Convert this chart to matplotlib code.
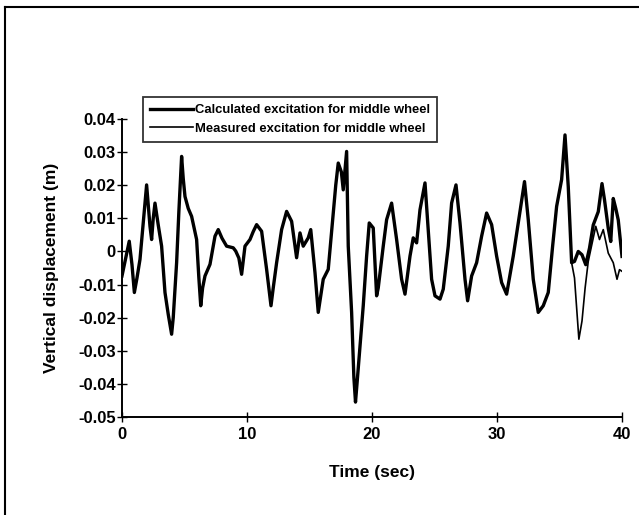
import matplotlib
matplotlib.use("Agg")
import matplotlib.pyplot as plt
from matplotlib.lines import Line2D

# shared part of both traces (they lie on top of each other up to ~36 s)
t_common = [0.0, 0.3, 0.58, 0.8, 0.99, 1.2, 1.44, 1.7, 1.97, 2.15, 2.24, 2.37, 2.5, 2.64,
            2.9, 3.17, 3.44, 3.7, 3.97, 4.1, 4.37, 4.55, 4.77, 4.9, 5.04, 5.3, 5.57, 5.97,
            6.15, 6.3, 6.45, 6.64, 7.04, 7.44, 7.7, 8.0, 8.37, 8.9, 9.1, 9.35, 9.57, 9.84,
            10.24, 10.5, 10.77, 11.17, 11.57, 11.92, 12.1, 12.37, 12.77, 13.17, 13.57, 13.97,
            14.24, 14.5, 14.9, 15.1, 15.44, 15.7, 16.1, 16.5, 16.9, 17.1, 17.3, 17.55, 17.7,
            17.97, 18.1, 18.37, 18.55, 18.68, 18.8, 19.04, 19.3, 19.57, 19.78, 20.1, 20.37,
            20.5, 20.9, 21.17, 21.57, 21.97, 22.37, 22.64, 23.04, 23.3, 23.57, 23.84, 24.24,
            24.5, 24.77, 25.04, 25.44, 25.7, 26.1, 26.37, 26.72, 27.04, 27.44, 27.65, 27.97,
            28.37, 28.77, 29.17, 29.57, 29.97, 30.37, 30.77, 31.3, 31.7, 32.2, 32.5, 32.9,
            33.3, 33.7, 34.1, 34.45, 34.77, 35.17, 35.44, 35.7, 35.97]
v_common = [-0.0074, -0.002, 0.0031, -0.004, -0.0124, -0.008, -0.0024, 0.0086, 0.0201, 0.012,
            0.0076, 0.0036, 0.010, 0.0146, 0.008, 0.0016, -0.0124, -0.019, -0.025, -0.020,
            -0.0034, 0.012, 0.0287, 0.022, 0.0166, 0.013, 0.0106, 0.0036, -0.008, -0.0164,
            -0.011, -0.0074, -0.0039, 0.0046, 0.0066, 0.004, 0.0016, 0.0011, 0.0001, -0.002,
            -0.0069, 0.0016, 0.0036, 0.006, 0.0081, 0.0061, -0.0054, -0.0164, -0.011, -0.0034,
            0.0066, 0.0121, 0.0091, -0.0019, 0.0056, 0.0016, 0.0041, 0.0066, -0.0064, -0.0184,
            -0.0084, -0.0054, 0.0116, 0.020, 0.0267, 0.024, 0.0186, 0.0302, 0.0016, -0.0184,
            -0.038, -0.0455, -0.040, -0.0285, -0.0164, -0.0014, 0.0086, 0.0071, -0.0134,
            -0.011, 0.0016, 0.0096, 0.0146, 0.0036, -0.0084, -0.0129, -0.0014, 0.0041, 0.0026,
            0.0126, 0.0207, 0.0066, -0.0084, -0.0134, -0.0144, -0.0114, 0.0016, 0.0146, 0.0201,
            0.0086, -0.0084, -0.0149, -0.0074, -0.0034, 0.0046, 0.0116, 0.0081, -0.0014,
            -0.0094, -0.0129, -0.0014, 0.0086, 0.0211, 0.0096, -0.0084, -0.0184, -0.0164,
            -0.0124, 0.0016, 0.0136, 0.0217, 0.0352, 0.0196, -0.0034]

# where they split apart
t_calc_tail = [36.2, 36.5, 36.8, 37.1, 37.4, 37.7, 38.1, 38.4, 38.6, 38.9, 39.1, 39.3, 39.5, 39.7, 40.0]
v_calc_tail = [-0.003, 0.0, -0.001, -0.004, 0.001, 0.008, 0.012, 0.0205, 0.0156, 0.007, 0.003,
               0.016, 0.013, 0.0095, -0.0015]
t_meas_tail = [36.2, 36.55, 36.8, 37.05, 37.3, 37.7, 37.9, 38.2, 38.5, 38.9, 39.3, 39.6, 39.8, 40.0]
v_meas_tail = [-0.008, -0.0265, -0.021, -0.011, -0.003, 0.004, 0.0076, 0.0036, 0.0066, -0.0005,
               -0.0034, -0.0084, -0.0055, -0.006]

t_calc = t_common + t_calc_tail
v_calc = v_common + v_calc_tail
t_meas = t_common + t_meas_tail
v_meas = v_common + v_meas_tail

x_ticks = [0, 10, 20, 30, 40]
y_ticks = [0.04, 0.03, 0.02, 0.01, 0, -0.01, -0.02, -0.03, -0.04, -0.05]
y_labels = ["0.04", "0.03", "0.02", "0.01", "0", "-0.01", "-0.02", "-0.03", "-0.04", "-0.05"]

bold = ["Liberation Sans", "DejaVu Sans"]

fig = plt.figure(figsize=(6.39, 5.15), dpi=100)
ax = fig.add_axes([0.1909, 0.1903, 0.7825, 0.5786])

ax.plot(t_meas, v_meas, color="black", lw=1.2, label="Measured excitation for middle wheel", zorder=2)
ax.plot(t_calc, v_calc, color="black", lw=2.4, label="Calculated excitation for middle wheel", zorder=3)

ax.set_xlim(0, 40)
ax.set_ylim(-0.05, 0.04)
ax.set_xticks(x_ticks)
ax.set_xticklabels([str(x) for x in x_ticks], fontfamily=bold, fontweight="bold", fontsize=12)
ax.set_yticks(y_ticks)
ax.set_yticklabels(y_labels, fontfamily=bold, fontweight="bold", fontsize=12)
ax.tick_params(direction="inout", length=7, width=1, pad=1)
ax.tick_params(axis="x", pad=4)

for s in ["top", "right"]:
    ax.spines[s].set_visible(False)
for s in ["left", "bottom"]:
    ax.spines[s].set_linewidth(1.4)

ax.set_xlabel("Time (sec)", fontfamily=bold, fontweight="bold", fontsize=12.5, labelpad=16)
ax.set_ylabel("Vertical displacement (m)", fontfamily=bold, fontweight="bold", fontsize=12.5, labelpad=14)

handles, labels = ax.get_legend_handles_labels()
leg = fig.legend(handles[::-1], labels[::-1], loc="upper left", bbox_to_anchor=(0.2238, 0.8117),
                 borderaxespad=0, frameon=True, fancybox=False, handlelength=3.3,
                 handletextpad=0.1, labelspacing=0.5, borderpad=0.55,
                 prop={"family": bold, "weight": "bold", "size": 9.4})
leg.get_frame().set_edgecolor("black")
leg.get_frame().set_linewidth(1.3)

# scanned page frame: only the left and top edges are visible
fig.add_artist(Line2D([5 / 639, 5 / 639], [0, 1 - 7 / 515], color="black", lw=1.5))
fig.add_artist(Line2D([5 / 639, 1], [1 - 7 / 515, 1 - 7 / 515], color="black", lw=1.5))

fig.savefig("out.png", dpi=100)
